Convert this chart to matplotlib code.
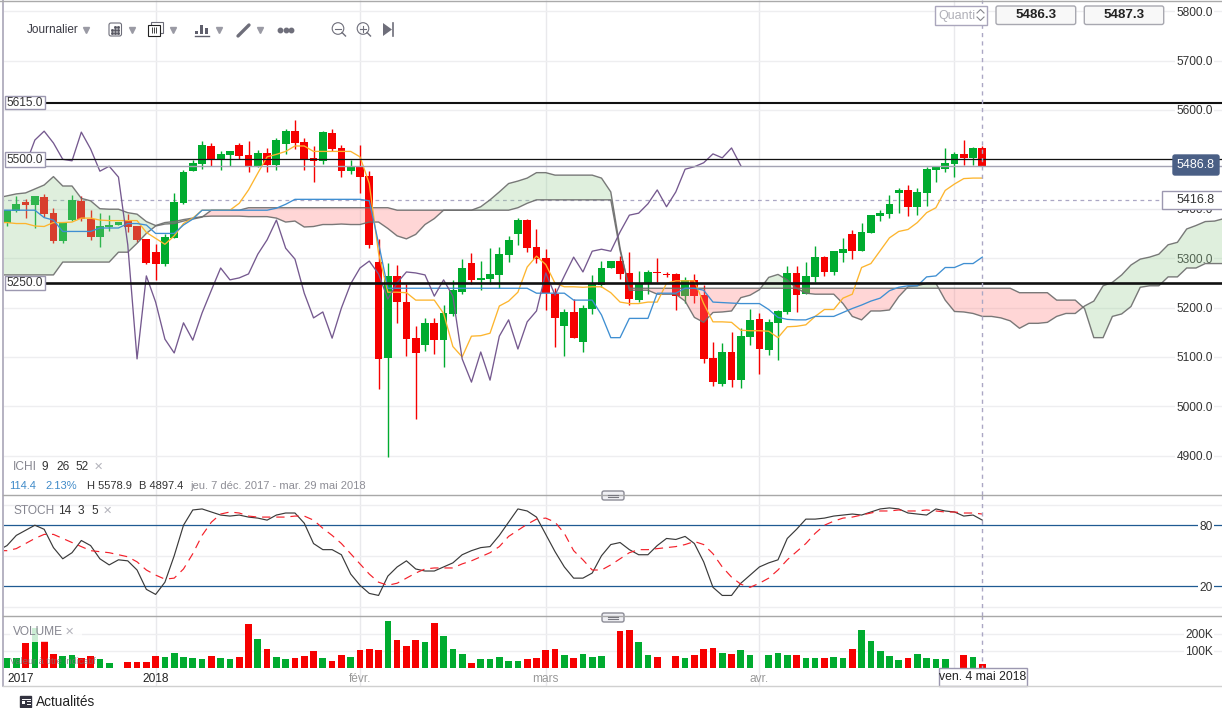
import numpy as np
import matplotlib
matplotlib.use('Agg')
import matplotlib.pyplot as plt
from matplotlib.patches import Rectangle, FancyBboxPatch, Circle

plt.rcParams['font.family'] = ['Liberation Sans', 'DejaVu Sans']

# bougies journalieres
opens = [5372,5396,5414,5408,5423,5391,5335,5377,5416,5380,
         5343,5363,5367,5375,5365,5339,5312,5288,5341,5412,
         5476,5491,5527,5500,5509,5529,5509,5484,5513,5489,
         5531,5557,5535,5503,5497,5553,5523,5476,5486,5466,
         5292,5098,5264,5211,5138,5124,5169,5134,5187,5231,
         5290,5256,5258,5266,5306,5349,5377,5322,5300,5227,
         5163,5191,5130,5197,5246,5280,5294,5270,5215,5250,
         5272,5268,5268,5223,5256,5225,5098,5045,5110,5053,
         5140,5177,5114,5169,5191,5270,5227,5262,5302,5272,
         5310,5349,5314,5351,5385,5389,5432,5438,5404,5432,
         5478,5480,5491,5511,5503,5523]
closes = [5397,5410,5408,5426,5389,5335,5372,5418,5379,5343,
          5365,5367,5374,5363,5337,5290,5288,5343,5414,5474,
          5493,5529,5500,5511,5517,5507,5484,5513,5489,5539,
          5557,5533,5500,5497,5555,5521,5476,5486,5464,5327,
          5096,5264,5211,5136,5108,5169,5134,5189,5235,5280,
          5256,5260,5268,5308,5337,5377,5320,5298,5229,5179,
          5191,5138,5199,5248,5280,5294,5268,5217,5250,5272,
          5270,5266,5223,5256,5223,5096,5049,5110,5053,5142,
          5175,5116,5171,5193,5270,5225,5264,5302,5272,5314,
          5318,5314,5353,5387,5391,5410,5438,5404,5434,5480,
          5485,5493,5511,5503,5523,5487]
highs = [5397,5426,5419,5426,5430,5401,5372,5428,5426,5397,
         5391,5387,5374,5389,5365,5339,5329,5349,5431,5478,
         5499,5537,5533,5517,5517,5533,5537,5519,5523,5543,
         5561,5579,5543,5527,5557,5561,5529,5499,5529,5476,
         5339,5290,5286,5248,5163,5178,5179,5205,5256,5298,
         5310,5294,5320,5322,5345,5381,5379,5359,5318,5239,
         5197,5217,5205,5266,5294,5294,5304,5312,5274,5276,
         5300,5272,5270,5262,5268,5246,5130,5128,5150,5158,
         5197,5189,5177,5195,5284,5284,5292,5325,5304,5314,
         5341,5357,5371,5387,5397,5428,5442,5448,5442,5485,
         5485,5523,5515,5539,5525,5527]
lows = [5365,5394,5381,5360,5383,5331,5331,5376,5376,5337,
        5323,5354,5367,5352,5333,5288,5256,5284,5341,5410,
        5476,5480,5486,5478,5486,5501,5474,5484,5474,5478,
        5511,5521,5478,5454,5491,5517,5464,5470,5432,5320,
        5035,4897,5169,5102,4974,5112,5106,5080,5183,5227,
        5248,5235,5248,5239,5292,5327,5312,5290,5195,5120,
        5102,5138,5110,5187,5241,5280,5258,5205,5211,5227,
        5252,5262,5195,5209,5209,5088,5041,5041,5039,5037,
        5124,5065,5104,5094,5187,5191,5227,5252,5264,5266,
        5292,5298,5314,5351,5375,5381,5391,5385,5387,5406,
        5454,5474,5464,5489,5489,5487]

# ichimoku (les series commencent une seance avant la premiere bougie visible)
tenkan = [5372,5372,5370,5370,5365,5364,5372,5372,5373,5381,5381,5377,5376,5376,5376,5376,
          5352,5340,5328,5345,5370,5381,5397,5397,5397,5397,5411,5438,5472,5505,5510,
          5516,5527,5527,5516,5516,5516,5516,5516,5505,5451,5310,5231,5231,
          5230,5215,5215,5215,5188,5121,5100,5142,5143,5148,5203,5213,5231,5282,5304,
          5287,5249,5242,5242,5241,5242,5242,5230,5211,5208,5208,5211,5211,5249,5254,
          5254,5254,5208,5171,5171,5170,5154,5153,5153,5152,5139,
          5161,5162,5165,5182,5196,5196,5219,5227,5281,5289,5315,5341,5354,5358,5372,
          5392,5402,5437,5450,5461,5462,5462]
kijun = [5397,5397,5397,5397,5397,5382,5377,5354,5354,5354,5354,5361,5361,5361,5370,5370,
         5367,5350,5350,5350,5367,5379,5397,5397,5397,5397,5397,5397,5397,5397,5401,
         5409,5419,5419,5419,5419,5419,5419,5419,5419,5416,5330,5239,5239,
         5239,5239,5239,5239,5239,5239,5239,5239,5239,5239,5239,5239,5239,5239,
         5229,5229,5229,5229,5215,5215,5215,5185,5139,5139,5178,5178,5178,5229,5229,
         5229,5239,5239,5235,5211,5210,5209,5208,5208,5208,5196,5180,
         5176,5175,5175,5182,5182,5182,5190,5198,5205,5213,5219,5234,5241,5244,5244,
         5262,5264,5281,5281,5289,5289,5302]
chikou = [5484,5513,5489,5539,5557,5533,5500,5497,5555,5521,5476,5486,5464,5327,5096,
          5264,5211,5136,5108,5169,5134,5189,5235,5280,5256,5260,5268,5308,5337,5377,
          5320,5298,5229,5179,5191,5138,5199,5248,5280,5294,5268,5217,5250,5272,5270,
          5266,5223,5256,5223,5096,5049,5110,5053,5142,5175,5116,5171,5193,5270,5225,
          5264,5302,5272,5314,5318,5314,5353,5387,5391,5410,5438,5404,5434,5480,5485,
          5493,5511,5503,5523,5487]
senkou_a = [5422,5426,5430,5432,5440,5448,5465,5446,5446,5421,5416,5400,5399,5399,5392,5389,
            5374,5366,5372,5374,5378,5381,5384,5385,5385,5385,5385,5384,5384,5384,5381,
            5373,5375,5363,5364,5368,5368,5369,5368,5368,5373,5373,5360,5345,5339,5348,
            5368,5380,5397,5397,5397,5397,5404,5418,5434,5451,5456,5462,5473,5473,5468,
            5468,5468,5468,5468,5462,5434,5320,5235,5235,5235,5227,5227,5227,5213,5180,
            5170,5190,5191,5193,
            5220,5225,5236,5261,5267,5256,5239,5229,5227,5227,5227,5208,5182,5175,5193,
            5193,5195,5222,5242,5244,5249,5249,5215,5192,5191,5188,5182,5182,5179,5173,
            5158,5168,5168,5170,5182,5188,5188,5203,5213,5244,5251,5266,5286,5298,5302,
            5308,5327,5332,5359,5366,5374,5375,5380]
senkou_b = [5266,5266,5266,5266,5266,5266,5266,5292,5292,5292,5292,5292,5292,5312,5312,5330,
            5350,5365,5369,5370,5375,5379,5383,5397,5397,5397,5397,
            5402,5402,5402,5402,5402,5402,5402,5402,5402,5402,5402,5402,5402,5402,5402,5402,
            5397,5397,5397,5397,5397,5397,5397,5397,5397,5397,5397,5397,5397,
            5402,5411,5418,5418,5418,5418,5418,5418,5418,5418,5418,5315,
            5239,5239,5239,5239,5239,5239,5239,5239,5239,5239,5239,5239,
            5239,5239,5239,5239,5239,5239,5239,5239,5239,5239,5239,5239,5239,5239,5239,
            5239,5239,5239,5239,5239,5239,5239,5239,5239,5239,5239,5239,5239,5239,5239,
            5230,5230,5230,5230,5215,5215,5215,5198,5139,5139,5182,5187,5202,5241,5244,
            5244,5262,5262,5280,5280,5289,5289,5289]

# stochastique
stoch_k = [55,60,70,75,80,76,58,47,53,65,60,47,41,46,45,36,17,12,24,50,80,95,96,93,90,89,
           90,88,87,85,90,92,92,82,62,56,56,51,32,21,13,11,30,39,45,37,35,35,39,43,51,
           55,58,59,70,83,96,94,88,71,54,39,28,28,33,50,61,63,56,51,51,60,67,66,69,62,
           44,19,11,11,23,31,39,43,46,67,76,86,86,87,89,90,91,90,93,96,97,96,92,91,90,
           96,94,93,89,90,85]
stoch_d = [55,55,57,62,67,71,71,67,63,59,55,54,53,51,49,44,36,31,27,28,37,52,70,83,91,93,
           92,89,88,88,88,88,89,89,85,77,70,62,52,42,32,24,21,23,28,33,37,38,38,38,42,
           45,49,53,59,69,75,81,86,87,83,72,55,46,36,36,41,47,53,56,56,57,58,59,61,64,
           61,52,39,29,22,19,23,28,36,46,54,62,72,80,84,87,88,90,92,94,94,95,94,94,95,
           94,93,93,92,92,91]

# volume en milliers, nan = pas de barre
volume = [61,57,149,233,159,82,73,74,57,69,51,31,np.nan,33,33,37,71,63,86,65,59,51,73,57,55,
          65,257,172,112,65,51,59,71,100,59,41,76,65,106,112,106,274,165,129,163,153,263,186,
          112,84,29,53,53,65,43,43,53,59,104,110,76,57,80,65,69,np.nan,216,223,155,74,65,np.nan,
          69,61,76,110,116,88,80,104,76,np.nan,74,88,74,76,57,61,61,63,59,112,221,159,100,69,
          49,59,82,61,53,53,np.nan,74,67,24]

price_ticks = [4900,5000,5100,5200,5300,5400,5500,5600,5700,5800]
stoch_ticks = [20,80]
stoch_grid = [0,50,100]
volume_ticks = [100,200]
month_pos = [16,38,58,81,102]
month_names = ['2017','2018','févr.','mars','avr.']
month_ticks = [1.5,16,38,58,81]
month_colors = ['#222222','#222222','#999999','#999999','#999999']

GREEN = '#00AB2F'
RED = '#F60000'
GRID = '#EEEEF0'
FRAME = '#A9A6B8'
DASH = '#ABA7C4'
DARK = '#333333'
GREY = '#85858F'

x = np.arange(len(closes))
last = len(closes) - 1
xlim = (-0.754, 130.8)
colors = [GREEN if c >= o else RED for o, c in zip(opens, closes)]

fig = plt.figure(figsize=(12.22, 7.08), dpi=100)
ax = fig.add_axes([0, 213 / 708, 1, 495 / 708])
ax_s = fig.add_axes([0, 91.7 / 708, 1, 121.3 / 708])
ax_v = fig.add_axes([0, 21.7 / 708, 1, 70 / 708])

for a in (ax, ax_s, ax_v):
    a.set_xlim(*xlim)
    for s in a.spines.values():
        s.set_visible(False)
    a.vlines(month_pos, 0, 1, transform=a.get_xaxis_transform(), color='#E9E9EC', lw=1, zorder=0)
    a.vlines(last, 0, 1, transform=a.get_xaxis_transform(), color=DASH, lw=1,
             linestyles=(0, (3, 3)), zorder=8)
    a.yaxis.tick_right()
    a.tick_params(axis='x', length=0, labelbottom=False)

# prix
ax.set_ylim(4820.5, 5822.5)
ax.set_yticks(price_ticks)
# le 5500.0 est cache par le prix courant
ax.set_yticklabels(['' if t == 5500 else '%.1f' % t for t in price_ticks])
ax.tick_params(axis='y', length=0, pad=-6.5, labelsize=8.6, labelcolor=DARK)
ax.grid(axis='y', color=GRID, lw=1)
ax.set_axisbelow(True)

ax.vlines(x, lows, highs, colors=colors, lw=1, zorder=2)
ax.bar(x, np.array(closes) - np.array(opens), bottom=opens, width=0.84, color=colors, zorder=2)

cx = np.arange(len(senkou_a)) - 1
ax.fill_between(cx, senkou_a, senkou_b, where=np.array(senkou_a) >= np.array(senkou_b),
                interpolate=True, color='#98CE94', alpha=0.31, lw=0, zorder=3)
ax.fill_between(cx, senkou_a, senkou_b, where=np.array(senkou_a) < np.array(senkou_b),
                interpolate=True, color='#FF7D7D', alpha=0.31, lw=0, zorder=3)
ax.plot(cx, senkou_a, color='#6B6B6B', lw=1, alpha=0.9, zorder=4)
ax.plot(cx, senkou_b, color='#6B6B6B', lw=1, alpha=0.9, zorder=4)
ax.plot(np.arange(len(tenkan)) - 1, tenkan, color='#FDB52E', lw=0.95, zorder=5)
ax.plot(np.arange(len(kijun)) - 1, kijun, color='#3F8FD2', lw=0.95, zorder=5)
ax.plot(np.arange(len(chikou)), chikou, color='#75598F', lw=0.95, zorder=5)

# niveaux traces a droite des etiquettes
ax.hlines(5615, 4, xlim[1], color='#111111', lw=1.5, zorder=6)
ax.hlines(5250, 4, xlim[1], color='#111111', lw=1.9, zorder=6)
ax.hlines(5500, 4, xlim[1], color='#111111', lw=0.9, zorder=6)
ax.hlines(5486.8, 4, xlim[1], color='#A3A3B3', lw=1, zorder=6)
ax.axhline(5416.8, color=DASH, lw=0.9, linestyle=(0, (3, 3)), zorder=1)

# stochastique
ax_s.set_ylim(-9.5, 109.7)
ax_s.set_yticks(stoch_ticks)
ax_s.set_yticklabels(['%d' % t for t in stoch_ticks])
ax_s.tick_params(axis='y', length=0, pad=-6.5, labelsize=8.6, labelcolor=DARK)
for g in stoch_grid:
    ax_s.axhline(g, color=GRID, lw=1, zorder=0)
ax_s.axhline(80, color='#1F5A92', lw=0.9, zorder=1)
ax_s.axhline(20, color='#1F5A92', lw=0.9, zorder=1)
sx = np.arange(len(stoch_k)) - 1
ax_s.plot(sx, stoch_k, color='#3A3A3A', lw=0.85, zorder=3)
ax_s.plot(sx, stoch_d, color='#F4202A', lw=0.85, linestyle=(0, (7, 5)), zorder=3)

# volume
ax_v.set_ylim(-107.6, 304)
ax_v.set_yticks(volume_ticks)
ax_v.set_yticklabels(['%dK' % t for t in volume_ticks])
ax_v.tick_params(axis='y', length=0, pad=-6.5, labelsize=8.6, labelcolor=DARK)
ax_v.grid(axis='y', color=GRID, lw=1)
ax_v.set_axisbelow(True)
ax_v.bar(x, volume, width=0.72, color=colors, zorder=2)
ax_v.set_xticks(month_ticks)
ax_v.set_xticklabels(month_names)
ax_v.tick_params(axis='x', labelbottom=True, pad=-9.5, labelsize=8.6)
for t, c in zip(ax_v.get_xticklabels(), month_colors):
    t.set_color(c)
for a in (ax, ax_s, ax_v):
    for t in a.get_yticklabels():
        t.set_ha('right')
        t.set_bbox(dict(fc='white', ec='none', pad=1))

# calque interface en pixels
ui = fig.add_axes([0, 0, 1, 1], facecolor='none', zorder=10)
ui.set_xlim(0, 1222)
ui.set_ylim(708, 0)
ui.axis('off')


def box(x0, y0, x1, y1, fc='white', ec='#9C98B0', lw=1, rounded=False, alpha=1):
    if rounded:
        p = FancyBboxPatch((x0 + 1, y0 + 1), x1 - x0 - 2, y1 - y0 - 2, boxstyle='round,pad=1,rounding_size=2',
                           fc=fc, ec=ec, lw=lw, alpha=alpha)
    else:
        p = Rectangle((x0, y0), x1 - x0, y1 - y0, fc=fc, ec=ec, lw=lw, alpha=alpha)
    ui.add_patch(p)


def label(px, py, s, size=8.6, color=DARK, ha='left', **kw):
    ui.text(px, py, s, fontsize=size, color=color, ha=ha, va='center', **kw)


# cadre
box(0, 0, 3.6, 686, ec='none')
ui.plot([2.7, 2.7], [0, 686], color=FRAME, lw=1.2)
ui.plot([0, 1222], [0.5, 0.5], color='#AAAAAA', lw=1)
ui.plot([2.7, 1222], [495, 495], color='#A8A8A8', lw=1)
ui.plot([2.7, 1222], [616.3, 616.3], color='#A8A8A8', lw=1)
ui.plot([2.7, 1222], [686.3, 686.3], color='#D0D0D0', lw=1)
for py in (495.5, 617.5):
    box(602, py - 4.5, 624, py + 4.5, fc='#F0F0F4', ec='#8C8C96', rounded=True)
    ui.plot([608, 618], [py - 1, py - 1], color='#77777F', lw=0.8)
    ui.plot([608, 618], [py + 1.5, py + 1.5], color='#77777F', lw=0.8)

# etiquettes de niveaux
for s, y0, y1 in (('5615.0', 96, 109), ('5500.0', 152, 167), ('5250.0', 276, 290)):
    box(4.5, y0, 44.5, y1)
    label(24.5, (y0 + y1) / 2 + 0.3, s, ha='center', size=8.6)
box(1173, 155, 1219, 175, fc='#4A5F85', ec='#4A5F85', rounded=True)
label(1196, 165.3, '5486.8', color='white', ha='center', size=9)
box(1162, 190.7, 1223, 209)
label(1177, 200.3, '5416.8', size=9)

# legendes des indicateurs
label(13, 467, 'ICHI', color=GREY, size=8.6)
label(42, 467, '9', size=8.6)
label(56, 467, '26', size=8.6)
label(76, 467, '52', size=8.6)
label(94, 466.5, '✕', color='#B4B4BC', size=8)
label(9, 486, '114.4', color='#3F8AC8', size=8)
label(45, 486, '2.13%', color='#3F8AC8', size=8)
label(87, 486, 'H 5578.9', size=8)
label(139, 486, 'B 4897.4', size=8)
label(190, 486, 'jeu. 7 déc. 2017 - mar. 29 mai 2018', color='#8E8E96', size=8)
label(13, 511, 'STOCH', color=GREY, size=8.6)
label(58, 511, '14', size=8.6)
label(78, 511, '3', size=8.6)
label(91, 511, '5', size=8.6)
label(103, 510.5, '✕', color='#B4B4BC', size=8)
box(10, 622, 82, 642, ec='none', alpha=0.8)
label(13, 632, 'VOLUME', color=GREY, size=8.6)
label(65, 631.5, '✕', color='#B4B4BC', size=8)
label(10, 661, 'Valeur à titre indicatif', color='#777777', size=6.6, alpha=0.8)

# date sous le curseur
box(939, 668, 1027, 685.5)
label(983, 677, 'ven. 4 mai 2018', color='#222222', ha='center', size=8.8)

# actualites
box(20, 696, 31, 706.5, fc='#333340', ec='#333340')
ui.plot([21.5, 29.5], [698.5, 698.5], color='white', lw=0.7)
ui.add_patch(Rectangle((22, 700.5), 3, 3, fc='white', ec='none'))
ui.plot([26.5, 29.5], [701, 701], color='white', lw=0.7)
ui.plot([26.5, 29.5], [703.5, 703.5], color='white', lw=0.7)
label(36, 702, 'Actualités', color='#222222', size=9.8)

# barre d'outils
ICON = '#6E6E7A'
label(27, 29.8, 'Journalier', color='#3A3A44', size=8.5)
for px in (86, 132, 173, 219, 260):
    ui.plot(px, 29.5, marker='v', ms=5, color='#9A9AA4', ls='none')
box(109, 23, 121.5, 36, fc='white', ec=ICON, lw=0.8, rounded=True)
ui.plot([112, 115, 118, 112, 115, 118, 115, 118], [30, 30, 30, 33, 33, 33, 27, 27],
        marker='s', ms=1, color='#555560', ls='none')
box(151, 22, 163, 33, fc='white', ec=ICON, lw=0.8)
box(148, 25, 160, 36, fc='white', ec='#222222', lw=0.8)
ui.plot([152, 154, 156], [30, 30, 30], marker='|', ms=5, mew=0.7, color='#444444', ls='none')
for px, top in ((196.5, 31), (201.5, 25), (206, 28)):
    ui.add_patch(Rectangle((px - 1.5, top), 3, 34 - top, fc='#5F5F6C', ec='none'))
ui.plot([195, 209], [36, 36], color='#5F5F6C', lw=1)
ui.plot([238, 249], [36, 25], color=ICON, lw=2.4, solid_capstyle='round')
ui.plot([280, 285.5, 291], [30, 30, 30], marker='o', ms=3.2, color=ICON, ls='none')
for px, plus in ((338, False), (363, True)):
    ui.add_patch(Circle((px, 28.5), 5.8, fc='none', ec=ICON, lw=0.8))
    ui.plot([px + 4, px + 7.5], [32.5, 36], color=ICON, lw=1)
    ui.plot([px - 3, px + 3], [28.5, 28.5], color=ICON, lw=0.8)
    if plus:
        ui.plot([px, px], [25.5, 31.5], color=ICON, lw=0.8)
ui.fill([383, 383, 392], [23, 36, 29.5], color=ICON, lw=0)
ui.plot([392.7, 392.7], [23, 36], color=ICON, lw=1.2)

# quantite et prix
box(934.5, 6, 986.5, 24.5, ec='#AAA6BC')
label(938, 15.5, 'Quanti', color='#B0B0B8', size=9)
ui.plot([977, 980.5, 984], [13, 9.5, 13], color='#888890', lw=0.8)
ui.plot([977, 980.5, 984], [17, 20.5, 17], color='#888890', lw=0.8)
for x0, x1, s in ((996, 1075.7, '5486.3'), (1084.3, 1163.7, '5487.3')):
    box(x0, 6, x1, 24.5, fc='#F8F8F8', ec='#A8A8B0', rounded=True)
    label((x0 + x1) / 2, 15.5, s, color='#222222', ha='center', size=9.6, fontweight='bold')

fig.savefig('out.png', dpi=100)
